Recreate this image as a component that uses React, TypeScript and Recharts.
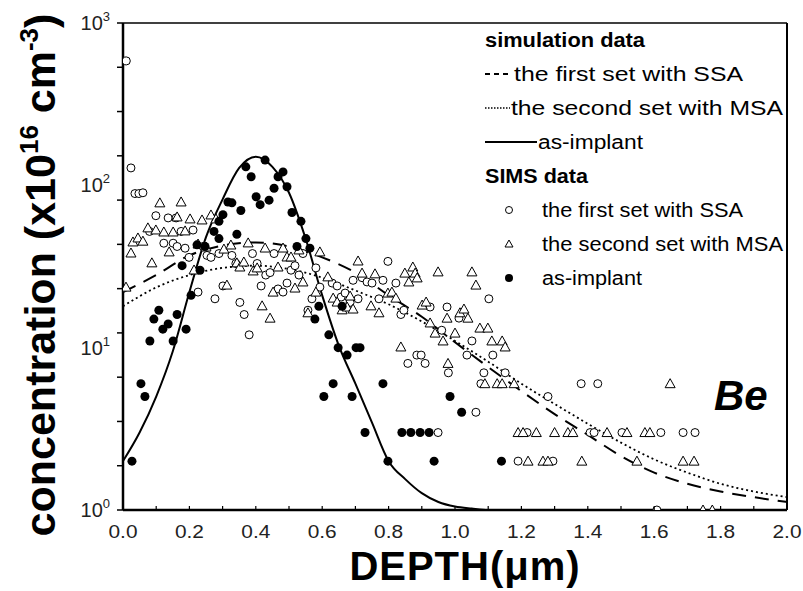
import React from "react";
import { ComposedChart, Line, Scatter, XAxis, YAxis } from "recharts";

// axis ticks
const xTicks = [0, 0.1, 0.2, 0.3, 0.4, 0.5, 0.6, 0.7, 0.8, 0.9, 1.0, 1.1, 1.2, 1.3, 1.4, 1.5, 1.6, 1.7, 1.8, 1.9, 2.0];
const xLabels = [0, 0.2, 0.4, 0.6, 0.8, 1.0, 1.2, 1.4, 1.6, 1.8, 2.0];
const yDecades = [1, 10, 100, 1000];
const yMinorTicks = [1, 1.874, 3.511, 6.579, 12.33, 23.1, 43.29, 81.11, 152.0, 284.8, 533.7, 1000];

// simulation curves
const simDepth = [0, 0.1, 0.2, 0.3, 0.4, 0.5, 0.6, 0.7, 0.8, 0.9, 1.0, 1.1, 1.2, 1.3, 1.4, 1.5, 1.6, 1.7, 1.8, 1.9, 2.0];
const simSSA = [22, 28, 37, 42.5, 44.5, 42, 36, 29, 21, 15.5, 10.8, 7.6, 5.4, 3.9, 2.9, 2.15, 1.7, 1.45, 1.3, 1.2, 1.12];
const simMSA = [18, 23.5, 28, 31, 32, 30.5, 27, 22.5, 18.5, 14.5, 11, 8.2, 6.0, 4.5, 3.4, 2.6, 2.05, 1.7, 1.45, 1.3, 1.2];
const implantDepth = [0, 0.05, 0.1, 0.15, 0.2, 0.25, 0.3, 0.35, 0.4, 0.45, 0.5, 0.55, 0.6, 0.65, 0.7, 0.75, 0.8, 0.85, 0.9, 0.95, 1.0, 1.05, 1.1, 1.15];
const implantSim = [2.0, 3.0, 5.0, 9.5, 22, 48, 82, 128, 150, 130, 90, 47, 21, 10.3, 6.0, 3.45, 2.0, 1.55, 1.27, 1.12, 1.05, 1.02, 1.0, 1.0];

// SIMS data [depth, concentration]
const simsSSA: [number, number][] = [
  [0.01, 584], [0.024, 128], [0.036, 89], [0.048, 89], [0.06, 90], [0.08, 52], [0.099, 65], [0.136, 63],
  [0.16, 63], [0.123, 44], [0.151, 44], [0.163, 42], [0.187, 41], [0.175, 52], [0.211, 53], [0.199, 36],
  [0.226, 22], [0.241, 42], [0.253, 37], [0.265, 36], [0.277, 20], [0.289, 38], [0.301, 24], [0.328, 37],
  [0.34, 33], [0.352, 19], [0.365, 16], [0.38, 12], [0.39, 38], [0.404, 33], [0.416, 24], [0.43, 28],
  [0.443, 29], [0.455, 38], [0.467, 23], [0.482, 22], [0.494, 25], [0.506, 30], [0.518, 32], [0.53, 28],
  [0.542, 38], [0.557, 17], [0.569, 20], [0.581, 31], [0.593, 23.6], [0.63, 25], [0.645, 24], [0.657, 20.5],
  [0.669, 21.7], [0.684, 19], [0.693, 26], [0.708, 20], [0.72, 27], [0.735, 25.4], [0.75, 25], [0.771, 20],
  [0.783, 26], [0.798, 34], [0.822, 25], [0.837, 16], [0.846, 17], [0.858, 8], [0.885, 9], [0.898, 9],
  [0.91, 8], [0.925, 17.8], [0.949, 3], [0.96, 12.8], [0.976, 17.8], [0.98, 7], [1.012, 15.2], [1.051, 11],
  [1.102, 20], [1.036, 9], [1.114, 9], [1.087, 7], [1.151, 7], [1.078, 6], [1.063, 4], [1.28, 5],
  [1.38, 6], [1.43, 6], [1.217, 3], [1.407, 3], [1.419, 3], [1.503, 3], [1.62, 3], [1.687, 3],
  [1.723, 3], [1.19, 2], [1.295, 2], [1.608, 1],
];

const simsMSA: [number, number][] = [
  [0.009, 23.6], [0.024, 38.3], [0.03, 44.8], [0.045, 47.4], [0.06, 45.3], [0.075, 54.7], [0.087, 33.3],
  [0.099, 53.1], [0.111, 78], [0.123, 51.6], [0.139, 38.9], [0.151, 51.6], [0.163, 63.9], [0.175, 79],
  [0.187, 52.4], [0.202, 62.1], [0.214, 30.1], [0.226, 43.5], [0.238, 61.2], [0.25, 41.7], [0.265, 65.7],
  [0.28, 62.1], [0.304, 40.5], [0.313, 24.3], [0.325, 42.9], [0.343, 33.3], [0.352, 31.4], [0.364, 33.7],
  [0.377, 44.2], [0.392, 29.7], [0.404, 31], [0.419, 18.1], [0.428, 41.1], [0.443, 15.2], [0.452, 22],
  [0.467, 31.4], [0.482, 41.1], [0.494, 36.2], [0.506, 36.2], [0.518, 23.3], [0.53, 40], [0.542, 25.4],
  [0.557, 16.4], [0.581, 22], [0.593, 38.9], [0.617, 27.3], [0.633, 20.2], [0.645, 19.1], [0.66, 17.1],
  [0.675, 17.8], [0.684, 20.8], [0.693, 17.3], [0.708, 34.2], [0.72, 28.8], [0.747, 18.1], [0.759, 28.5],
  [0.771, 16.4], [0.798, 21.7], [0.81, 22], [0.822, 20.2], [0.837, 10.1], [0.849, 28.8], [0.861, 25.4],
  [0.873, 31.4], [0.88, 28.8], [0.886, 26.9], [0.901, 18.3], [0.913, 19.1], [0.925, 14.2], [0.94, 12.3],
  [0.949, 29.3], [0.964, 11], [0.976, 15.2], [0.979, 8], [1.0, 12.3], [1.015, 16.4], [1.027, 17.3],
  [1.039, 15.2], [1.051, 29.3], [1.063, 24.3], [1.075, 13.2], [1.099, 13.2], [1.111, 11], [1.142, 11],
  [1.151, 10.1], [1.09, 6], [1.127, 6], [1.142, 6], [1.178, 6], [1.648, 6], [1.19, 3], [1.205, 3],
  [1.245, 3], [1.3, 3], [1.34, 3], [1.355, 3], [1.458, 3], [1.518, 3], [1.572, 3], [1.587, 3],
  [1.22, 2], [1.265, 2], [1.28, 2], [1.382, 2], [1.548, 2], [1.687, 2], [1.72, 2], [1.747, 1], [1.775, 1],
];

const simsImplant: [number, number][] = [
  [0.027, 2], [0.054, 6], [0.066, 5], [0.081, 11], [0.093, 15], [0.108, 17], [0.12, 13], [0.136, 14],
  [0.151, 11], [0.163, 16], [0.19, 13], [0.178, 32], [0.205, 21], [0.223, 43], [0.232, 30], [0.247, 42],
  [0.274, 52], [0.289, 47], [0.289, 60], [0.301, 66], [0.316, 79], [0.328, 78], [0.343, 50], [0.355, 70],
  [0.37, 130], [0.386, 113], [0.401, 85], [0.413, 76], [0.428, 143], [0.44, 81], [0.455, 96], [0.467, 113],
  [0.482, 121], [0.494, 98], [0.509, 68], [0.524, 42], [0.536, 60], [0.551, 47], [0.563, 41], [0.578, 15],
  [0.59, 18], [0.605, 5], [0.62, 12], [0.633, 6], [0.648, 10], [0.66, 18], [0.675, 9], [0.69, 5],
  [0.702, 10], [0.714, 10], [0.729, 3], [0.783, 6], [0.798, 2], [0.84, 3], [0.867, 3], [0.895, 3],
  [0.922, 3], [0.937, 2], [0.985, 5], [1.02, 4], [1.14, 2],
];

const W = 803;
const H = 591;
const P = { left: 123, right: 787, top: 23, bottom: 510 };
const FONT = "'Liberation Sans', Arial, Helvetica, sans-serif";

const toPts = (xs: number[], ys: number[]) => xs.map((x, i) => ({ x, y: ys[i] }));
const toObj = (arr: [number, number][]) => arr.map(([x, y]) => ({ x, y }));

const OpenCircle = (p: any) => <circle cx={p.cx} cy={p.cy} r={4} fill="#fff" stroke="#000" strokeWidth={1} />;
const FilledCircle = (p: any) => <circle cx={p.cx} cy={p.cy} r={4.5} fill="#000" />;
const Triangle = (p: any) => (
  <polygon
    points={`${p.cx},${p.cy - 5} ${p.cx - 5},${p.cy + 4} ${p.cx + 5},${p.cy + 4}`}
    fill="#fff"
    stroke="#000"
    strokeWidth={1}
  />
);

function BottomTick({ x, payload }: any) {
  const v = payload.value;
  const major = xLabels.some((l) => Math.abs(l - v) < 1e-6);
  return (
    <g>
      <line x1={x} x2={x} y1={P.bottom} y2={P.bottom - 4} stroke="#000" strokeWidth={1.2} />
      {major && (
        <text
          x={x - 14.5}
          y={P.bottom + 28}
          fontSize={18.5}
          fill="#222"
          fontFamily={FONT}
          textLength={29}
          lengthAdjust="spacingAndGlyphs"
        >
          {v.toFixed(1)}
        </text>
      )}
    </g>
  );
}

function TopTick({ x }: any) {
  return <line x1={x} x2={x} y1={P.top} y2={P.top + 4} stroke="#000" strokeWidth={1.2} />;
}

function LeftTick({ y, payload }: any) {
  const v = payload.value;
  const minor = yMinorTicks.includes(v);
  const dec = yDecades.indexOf(v);
  return (
    <g>
      {minor && <line x1={P.left - 6} x2={P.left} y1={y} y2={y} stroke="#000" strokeWidth={1.5} />}
      {dec >= 0 && (
        <text x={P.left - 13} y={y + 7} textAnchor="end" fontSize={20} fill="#222" fontFamily={FONT}>
          10
          <tspan dy={-9} fontSize={13}>
            {dec}
          </tspan>
        </text>
      )}
    </g>
  );
}

function RightTick({ y }: any) {
  return <line x1={P.right - 4} x2={P.right} y1={y} y2={y} stroke="#000" strokeWidth={1.2} />;
}

const rows = [40, 74, 108, 142, 176, 210, 244, 278];

function LegendText({ x, row, w, bold, children }: any) {
  return (
    <text
      x={x}
      y={rows[row] + 7}
      fontSize={20}
      fontWeight={bold ? "bold" : "normal"}
      textLength={w}
      lengthAdjust="spacingAndGlyphs"
    >
      {children}
    </text>
  );
}

function Overlay() {
  return (
    <svg width={W} height={H} style={{ position: "absolute", left: 0, top: 0, pointerEvents: "none" }}>
      <g fontFamily={FONT} fill="#000">
        <LegendText x={485} row={0} w={160} bold>simulation data</LegendText>
        <line x1={485} x2={508} y1={rows[1]} y2={rows[1]} stroke="#000" strokeWidth={2} strokeDasharray="5 4" />
        <LegendText x={514} row={1} w={229}>the first set with SSA</LegendText>
        <line x1={485} x2={510} y1={rows[2]} y2={rows[2]} stroke="#000" strokeWidth={1.5} strokeDasharray="1.5 1.5" />
        <LegendText x={511} row={2} w={272}>the second set with MSA</LegendText>
        <line x1={485} x2={537} y1={rows[3]} y2={rows[3]} stroke="#000" strokeWidth={2} />
        <LegendText x={538} row={3} w={105}>as-implant</LegendText>
        <LegendText x={485} row={4} w={103} bold>SIMS data</LegendText>
        <circle cx={509} cy={rows[5]} r={3.5} fill="#fff" stroke="#000" />
        <LegendText x={542} row={5} w={201}>the first set with SSA</LegendText>
        <polygon
          points={`509,${rows[6] - 4} 505,${rows[6] + 3} 513,${rows[6] + 3}`}
          fill="#fff"
          stroke="#000"
        />
        <LegendText x={542} row={6} w={241}>the second set with MSA</LegendText>
        <circle cx={509} cy={rows[7]} r={4} fill="#000" />
        <LegendText x={542} row={7} w={100}>as-implant</LegendText>

        <text x={714} y={410} fontSize={42} fontWeight="bold" fontStyle="italic">Be</text>

        <text x={465} y={580} fontSize={40} fontWeight="bold" textAnchor="middle" letterSpacing={1}>
          DEPTH(μm)
        </text>
        <text transform="translate(55,275) rotate(-90)" fontSize={43} fontWeight="bold" textAnchor="middle">
          concentration (x10
          <tspan dy={-17} fontSize={26}>16</tspan>
          <tspan dy={17}> cm</tspan>
          <tspan dy={-17} fontSize={26}>-3</tspan>
          <tspan dy={17}>)</tspan>
        </text>
      </g>
    </svg>
  );
}

export default function App() {
  return (
    <div style={{ position: "absolute", left: 0, top: 0, width: W, height: H, background: "#fff" }}>
      <ComposedChart width={W} height={H} margin={{ top: 0, right: 0, bottom: 0, left: 0 }}>
        <XAxis
          dataKey="x"
          type="number"
          domain={[0, 2]}
          ticks={xTicks}
          interval={0}
          height={81}
          allowDataOverflow
          axisLine={{ stroke: "#000", strokeWidth: 2.5 }}
          tickLine={false}
          tick={<BottomTick />}
        />
        <XAxis
          xAxisId="top"
          orientation="top"
          type="number"
          domain={[0, 2]}
          ticks={xTicks}
          interval={0}
          height={23}
          axisLine={{ stroke: "#000", strokeWidth: 1.5 }}
          tickLine={false}
          tick={<TopTick />}
        />
        <YAxis
          dataKey="y"
          type="number"
          scale="log"
          domain={[1, 1000]}
          ticks={[...yMinorTicks, 10, 100]}
          interval={0}
          width={123}
          allowDataOverflow
          axisLine={{ stroke: "#000", strokeWidth: 2.5 }}
          tickLine={false}
          tick={<LeftTick />}
        />
        <YAxis
          yAxisId="right"
          orientation="right"
          type="number"
          scale="log"
          domain={[1, 1000]}
          ticks={yMinorTicks}
          interval={0}
          width={16}
          axisLine={{ stroke: "#000", strokeWidth: 2 }}
          tickLine={false}
          tick={<RightTick />}
        />
        <Line
          data={toPts(simDepth, simSSA)}
          dataKey="y"
          type="monotone"
          stroke="#000"
          strokeWidth={2}
          strokeDasharray="14 9"
          dot={false}
          isAnimationActive={false}
        />
        <Line
          data={toPts(simDepth, simMSA)}
          dataKey="y"
          type="monotone"
          stroke="#000"
          strokeWidth={1.8}
          strokeDasharray="2 3"
          dot={false}
          isAnimationActive={false}
        />
        <Line
          data={toPts(implantDepth, implantSim)}
          dataKey="y"
          type="monotone"
          stroke="#000"
          strokeWidth={2}
          dot={false}
          isAnimationActive={false}
        />
        <Scatter data={toObj(simsSSA)} dataKey="y" shape={OpenCircle} isAnimationActive={false} />
        <Scatter data={toObj(simsMSA)} dataKey="y" shape={Triangle} isAnimationActive={false} />
        <Scatter data={toObj(simsImplant)} dataKey="y" shape={FilledCircle} isAnimationActive={false} />
      </ComposedChart>
      <Overlay />
    </div>
  );
}
